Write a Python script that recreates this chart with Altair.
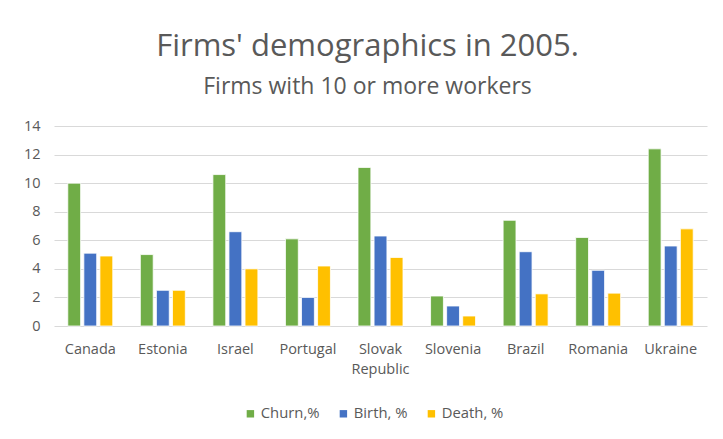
import altair as alt
import pandas as pd

countries = ["Canada", "Estonia", "Israel", "Portugal", "Slovak Republic",
             "Slovenia", "Brazil", "Romania", "Ukraine"]
series = ["Churn,%", "Birth, %", "Death, %"]
churn = [10.0, 5.0, 10.6, 6.1, 11.1, 2.1, 7.4, 6.2, 12.4]
birth = [5.1, 2.5, 6.6, 2.0, 6.3, 1.4, 5.2, 3.9, 5.6]
death = [4.9, 2.5, 4.0, 4.2, 4.8, 0.7, 2.25, 2.3, 6.8]
colors = ["#70AD47", "#4472C4", "#FFC000"]

rows = []
for i, c in enumerate(countries):
    for s, vals in zip(series, [churn, birth, death]):
        rows.append({"country": c, "series": s, "value": vals[i]})
df = pd.DataFrame(rows)

FONT = "Open Sans"
GRAY = "#595959"

chart = alt.Chart(df).mark_bar(stroke="white", strokeWidth=0.8).encode(
    x=alt.X("country:N", sort=countries, title=None,
            scale=alt.Scale(paddingInner=0.38, paddingOuter=0.19),
            axis=alt.Axis(labelAngle=0, labelFont=FONT, labelFontSize=14.5,
                          labelColor=GRAY, ticks=False, domain=False,
                          labelPadding=16, labelLineHeight=20,
                          labelExpr="datum.label == 'Slovak Republic' ? ['Slovak', 'Republic'] : datum.label")),
    xOffset=alt.XOffset("series:N", sort=series,
                        scale=alt.Scale(paddingInner=0.2)),
    y=alt.Y("value:Q", title=None,
            scale=alt.Scale(domain=[0, 14], nice=False),
            axis=alt.Axis(values=list(range(0, 15, 2)), labelFont=FONT,
                          labelFontSize=14.5, labelColor=GRAY, ticks=False,
                          domain=False, gridColor="#D9D9D9", gridWidth=1,
                          labelPadding=14)),
    color=alt.Color("series:N", sort=series,
                    scale=alt.Scale(domain=series, range=colors),
                    legend=alt.Legend(title=None, orient="none", direction="horizontal",
                                      legendX=189, legendY=280,
                                      symbolType="square", symbolSize=55,
                                      symbolStrokeWidth=0,
                                      labelFont=FONT, labelFontSize=14.8,
                                      labelColor=GRAY, columnPadding=16,
                                      labelOffset=3)),
).properties(
    width=653, height=200,
    padding={"left": 46, "top": 118, "right": 8, "bottom": 105},
    autosize=alt.AutoSizeParams(type="none"),
    title=alt.TitleParams(
        text="Firms' demographics in 2005.",
        subtitle="Firms with 10 or more workers",
        font=FONT, fontSize=31, fontWeight="normal", color=GRAY,
        subtitleFont=FONT, subtitleFontSize=23, subtitleColor=GRAY,
        anchor="middle", frame="group", offset=18, subtitlePadding=13,
        dx=-13,
    ),
).configure(background="white").configure_view(stroke=None)

chart.save("out.html", embed_options={"renderer": "svg", "actions": False})
